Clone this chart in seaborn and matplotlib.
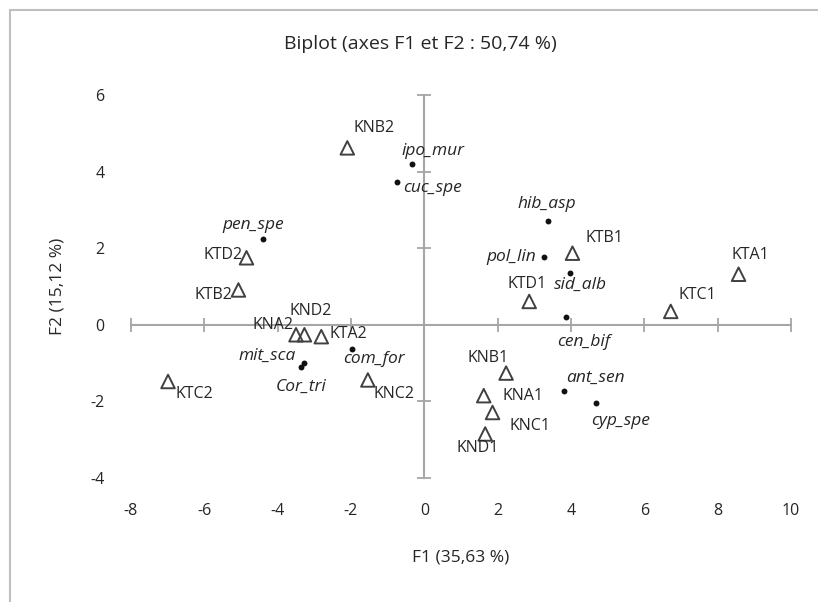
import matplotlib
matplotlib.use("Agg")
import matplotlib.pyplot as plt
from matplotlib.patches import Rectangle
import seaborn as sns
import pandas as pd

# --- data ---------------------------------------------------------------
obs_names = ["KNB2", "KTD2", "KTB2", "KNA2", "KND2", "KTA2", "KTC2", "KNC2",
             "KTD1", "KTB1", "KTA1", "KTC1", "KNB1", "KNA1", "KNC1", "KND1"]
obs_f1 = [-2.10, -4.85, -5.07, -3.50, -3.27, -2.81, -6.99, -1.54,
          2.86, 4.04, 8.57, 6.72, 2.23, 1.62, 1.86, 1.66]
obs_f2 = [4.62, 1.75, 0.91, -0.26, -0.26, -0.31, -1.48, -1.44,
          0.61, 1.87, 1.32, 0.35, -1.26, -1.85, -2.29, -2.85]

var_names = ["ipo_mur", "cuc_spe", "hib_asp", "pol_lin", "sid_alb", "cen_bif",
             "pen_spe", "mit_sca", "Cor_tri", "com_for", "ant_sen", "cyp_spe"]
var_f1 = [-0.34, -0.74, 3.36, 3.27, 3.97, 3.87, -4.39, -3.27, -3.36, -1.98, 3.81, 4.68]
var_f2 = [4.20, 3.73, 2.72, 1.78, 1.35, 0.21, 2.24, -1.00, -1.09, -0.63, -1.72, -2.05]

x_ticks = [-8, -6, -4, -2, 0, 2, 4, 6, 8, 10]
y_ticks = [-4, -2, 0, 2, 4, 6]

title = "Biplot (axes F1 et F2 : 50,74 %)"
xlabel = "F1 (35,63 %)"
ylabel = "F2 (15,12 %)"

# --- label placement (pixel offsets, alignment) ------------------------
obs_off = {
    "KNB2": (6, 20, "left"), "KTD2": (-4, 3, "right"), "KTB2": (-6, -5, "right"),
    "KNA2": (-3, 10, "right"), "KND2": (-15, 24, "left"), "KTA2": (8, 3, "left"),
    "KTC2": (7, -13, "left"), "KNC2": (6, -14, "left"), "KTD1": (-2, 17, "center"),
    "KTB1": (13, 15, "left"), "KTA1": (12, 19, "center"), "KTC1": (8, 16, "left"),
    "KNB1": (3, 15, "right"), "KNA1": (19, 0, "left"), "KNC1": (17, -13, "left"),
    "KND1": (-8, -14, "center"),
}
var_off = {
    "ipo_mur": (-10, 13, "left"), "cuc_spe": (6, -6, "left"), "hib_asp": (-1, 17, "center"),
    "pol_lin": (-8, 0, "right"), "sid_alb": (-16, -12, "left"), "cen_bif": (17, -25, "center"),
    "pen_spe": (-10, 14, "center"), "mit_sca": (-9, 7, "right"), "Cor_tri": (0, -20, "center"),
    "com_for": (-9, -10, "left"), "ant_sen": (2, 13, "left"), "cyp_spe": (25, -18, "center"),
}

obs = pd.DataFrame({"F1": obs_f1, "F2": obs_f2, "name": obs_names})
var = pd.DataFrame({"F1": var_f1, "F2": var_f2, "name": var_names})

sns.set_theme(style="white")
font = ["Open Sans", "DejaVu Sans"]
plt.rcParams["font.family"] = font
plt.rcParams["axes.unicode_minus"] = False

TXT = "#262626"
W, H = 818, 602
fig = plt.figure(figsize=(W / 100, H / 100), dpi=100)
fig.patch.set_facecolor("white")

pos = [131 / W, 1 - 478 / H, (791 - 131) / W, (478 - 95) / H]

# label axes (outer tick labels, no frame)
axl = fig.add_axes(pos)
axl.set_xlim(-8, 10)
axl.set_ylim(-4, 6)
for s in axl.spines.values():
    s.set_visible(False)
axl.set_xticks(x_ticks)
axl.set_yticks(y_ticks)
axl.tick_params(axis="x", length=0, pad=18, labelsize=11.5, colors=TXT)
axl.tick_params(axis="y", length=0, pad=19, labelsize=11.5, colors=TXT)
axl.set_facecolor("none")

# main axes with crosshair spines
ax = fig.add_axes(pos, sharex=axl, sharey=axl)
ax.set_facecolor("none")
ax.spines["top"].set_visible(False)
ax.spines["right"].set_visible(False)
ax.spines["left"].set_position(("data", 0))
ax.spines["bottom"].set_position(("data", 0))
for k in ("left", "bottom"):
    ax.spines[k].set_color("#a6a6a6")
    ax.spines[k].set_linewidth(1.5)
ax.tick_params(axis="both", direction="inout", length=10, width=1.3,
               color="#a6a6a6", labelleft=False, labelbottom=False,
               left=True, bottom=True)

sns.scatterplot(data=obs, x="F1", y="F2", ax=ax, marker="^", s=95,
                facecolor="none", edgecolor="#404040", linewidth=1.4, zorder=3)
sns.scatterplot(data=var, x="F1", y="F2", ax=ax, marker="o", s=18,
                color="#111111", edgecolor="#111111", linewidth=0, zorder=3)
ax.set_xlim(-8, 10)
ax.set_ylim(-4, 6)
ax.set_xlabel("")
ax.set_ylabel("")

for _, r in obs.iterrows():
    dx, dy, ha = obs_off[r["name"]]
    ax.annotate(r["name"], (r["F1"], r["F2"]), xytext=(dx * 0.72, dy * 0.72),
                textcoords="offset points", ha=ha, va="center",
                fontsize=11.5, color=TXT)
for _, r in var.iterrows():
    dx, dy, ha = var_off[r["name"]]
    ax.annotate(r["name"], (r["F1"], r["F2"]), xytext=(dx * 0.72, dy * 0.72),
                textcoords="offset points", ha=ha, va="center",
                fontsize=12.5, color=TXT, style="italic")

fig.text(420 / W, 1 - 44 / H, title, ha="center", va="center",
         fontsize=14, color=TXT)
fig.text(461 / W, 1 - 557 / H, xlabel, ha="center", va="center",
         fontsize=12.5, color=TXT)
fig.text(58 / W, 1 - 286 / H, ylabel, ha="center", va="center",
         rotation=90, fontsize=12.5, color=TXT)

fig.patches.append(Rectangle((10 / W, -0.5), 2, 0.5 + 1 - 10 / H,
                             transform=fig.transFigure, fill=False,
                             edgecolor="#bfbfbf", linewidth=1.5))

fig.savefig("out.png", dpi=100)
